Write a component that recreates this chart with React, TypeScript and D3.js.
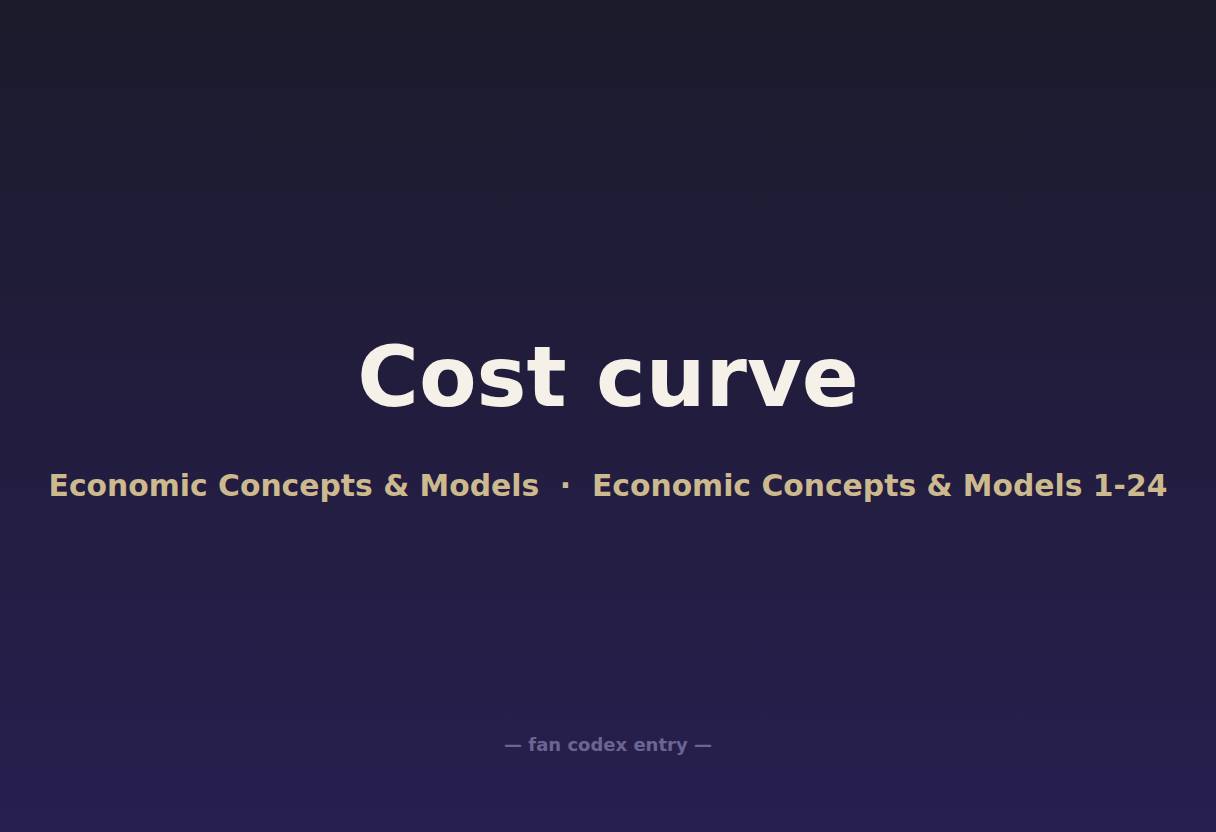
import React from 'react';
import * as d3 from 'd3';

const WIDTH = 1216;
const HEIGHT = 832;

const titleText = 'Cost curve';
const subtitleParts = ['Economic Concepts & Models', 'Economic Concepts & Models 1-24'];
const footerText = '— fan codex entry —';
const gradientStops = ['#1b1b2b', '#221d3e', '#271f4f'];

const App: React.FC = () => {
  // vertical layout as fractions of the page height
  const y = d3.scaleLinear().domain([0, 1]).range([0, HEIGHT]);
  const stopOffset = d3.scaleLinear().domain([0, gradientStops.length - 1]).range([0, 100]);

  return (
    <svg
      width={WIDTH}
      height={HEIGHT}
      viewBox={`0 0 ${WIDTH} ${HEIGHT}`}
      style={{ position: 'absolute', left: 0, top: 0, display: 'block' }}
      fontFamily="'DejaVu Sans', sans-serif"
    >
      <defs>
        <linearGradient id="bg" x1="0" y1="0" x2="0" y2="1">
          {gradientStops.map((c, i) => (
            <stop key={c} offset={`${stopOffset(i)}%`} stopColor={c} />
          ))}
        </linearGradient>
      </defs>
      <rect x={0} y={0} width={WIDTH} height={HEIGHT} fill="url(#bg)" />

      <text
        x={WIDTH / 2}
        y={y(0.488)}
        textAnchor="middle"
        fontSize={84}
        fontWeight="bold"
        fill="#f5f0e8"
      >
        {titleText}
      </text>

      <text
        x={WIDTH / 2}
        y={y(0.596)}
        textAnchor="middle"
        fontSize={29.8}
        fontWeight="bold"
        fill="#cdb98e"
        style={{ whiteSpace: 'pre' }}
      >
        {subtitleParts.join('  ·  ')}
      </text>

      <text
        x={WIDTH / 2}
        y={y(0.903)}
        textAnchor="middle"
        fontSize={18}
        fontWeight="bold"
        fill="#6c6592"
      >
        {footerText}
      </text>
    </svg>
  );
};

export default App;
